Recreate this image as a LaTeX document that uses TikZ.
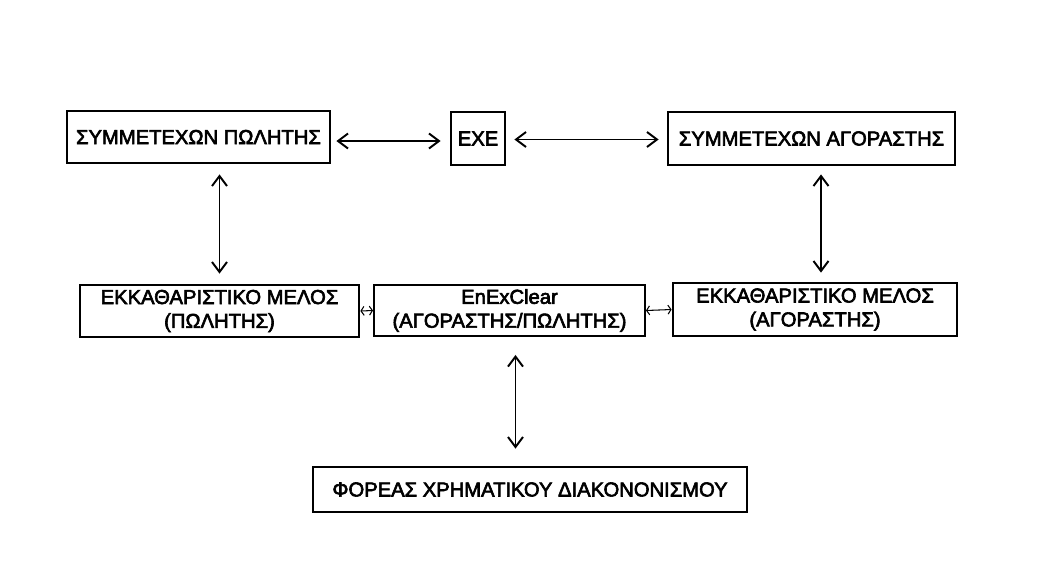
\documentclass[tikz,border=0pt]{standalone}
\usepackage{fontspec}
\setmainfont{Liberation Sans}
\newfontfamily\boxfont[FakeBold=3]{Liberation Sans}
\usepackage{tikz}
\usetikzlibrary{positioning}
\usetikzlibrary{arrows.meta}
\usetikzlibrary{calc}

\begin{document}
\begin{tikzpicture}[x=0.02cm, y=-0.02cm,
    box/.style={draw, line width=1.6pt, inner sep=0pt, align=center,
        font=\boxfont\fontsize{11.5}{13.6}\selectfont},
    thinbox/.style={box, line width=1.1pt},
    biarrow/.style={draw, line width=1.1pt, {Straight Barb[length=2mm,width=3mm]}-{Straight Barb[length=2mm,width=3mm]}},
    smallarrow/.style={draw, line width=0.6pt, {Straight Barb[length=0.6mm,width=1.8mm]}-{Straight Barb[length=0.6mm,width=1.8mm]}}]

    \useasboundingbox (0,0) rectangle (1064,569);

    % top row
    \node[box, minimum width=263*0.02cm, minimum height=52*0.02cm] (spa) at (198.5,137) {ΣΥΜΜΕΤΕΧΩΝ ΠΩΛΗΤΗΣ};
    \node[box, minimum width=54*0.02cm, minimum height=53*0.02cm] (exe) at (478,138.5) {EXE};
    \node[box, minimum width=287*0.02cm, minimum height=53*0.02cm] (bpa) at (811.5,138.5) {ΣΥΜΜΕΤΕΧΩΝ ΑΓΟΡΑΣΤΗΣ};

    % clearing row
    \node[box, minimum width=279*0.02cm, minimum height=52*0.02cm] (scm) at (219.5,311) {ΕΚΚΑΘΑΡΙΣΤΙΚΟ ΜΕΛΟΣ\\(ΠΩΛΗΤΗΣ)};
    \node[thinbox, minimum width=271*0.02cm, minimum height=51*0.02cm] (ecl) at (509.5,310.5) {EnExClear\\(ΑΓΟΡΑΣΤΗΣ/ΠΩΛΗΤΗΣ)};
    \node[box, minimum width=284*0.02cm, minimum height=53*0.02cm] (bcm) at (815,309.5) {ΕΚΚΑΘΑΡΙΣΤΙΚΟ ΜΕΛΟΣ\\(ΑΓΟΡΑΣΤΗΣ)};

    % settlement
    \node[box, minimum width=434*0.02cm, minimum height=45*0.02cm] (fin) at (530,489.5) {ΦΟΡΕΑΣ ΧΡΗΜΑΤΙΚΟΥ ΔΙΑΚΟΝΟΝΙΣΜΟΥ};

    % connections
    \path[biarrow, shorten <=5*0.02cm, shorten >=9*0.02cm] ($(spa.east)+(0,4)$) -- ($(exe.west)+(0,2.5)$);
    \path[biarrow, shorten <=8*0.02cm, shorten >=8*0.02cm] ($(exe.east)+(0,1)$) -- ($(bpa.west)+(0,1)$);
    \path[biarrow, shorten <=10*0.02cm, shorten >=10*0.02cm] (spa.south -| scm.north) -- (scm.north);
    \path[biarrow, shorten <=8*0.02cm, shorten >=9*0.02cm] ($(bpa.south)+(9.5,0)$) -- ($(bcm.north)+(6,0)$);
    \path[biarrow, shorten <=18*0.02cm, shorten >=17*0.02cm] ($(ecl.south)+(6,0)$) -- ($(ecl.south |- fin.north)+(6,0)$);
    \path[smallarrow] (scm.east) -- (ecl.west);
    \path[smallarrow] (ecl.east) -- (bcm.west);

\end{tikzpicture}
\end{document}
